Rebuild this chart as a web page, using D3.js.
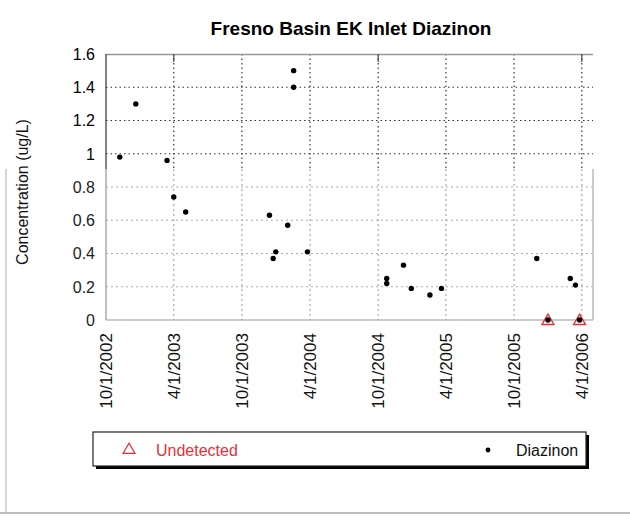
<!DOCTYPE html>
<html>
<head>
<meta charset="utf-8">
<script src="https://cdn.jsdelivr.net/npm/d3@7"></script>
<style>
body { margin: 0; background: #fff; }
text { font-family: "Liberation Sans", Arial, sans-serif; }
</style>
</head>
<body>
<div id="chart"></div>
<script>
// sample dates and concentrations (ug/L)
var diazDates = ["2002-11-07","2002-12-20","2003-03-14","2003-04-01","2003-05-03",
    "2003-12-14","2003-12-24","2003-12-31","2004-02-01","2004-02-17","2004-02-17",
    "2004-03-25","2004-10-24","2004-10-24","2004-12-08","2004-12-29","2005-02-17",
    "2005-03-20","2005-12-01","2005-12-31","2006-03-01","2006-03-15","2006-03-26"];
var diazValues = [0.98,1.30,0.96,0.74,0.65,0.63,0.37,0.41,0.57,1.50,1.40,0.41,
    0.25,0.22,0.33,0.19,0.15,0.19,0.37,0,0.25,0.21,0];
var undetDates = ["2005-12-31","2006-03-26"];
var undetValues = [0, 0];
var xTicks = ["2002-10-01","2003-04-01","2003-10-01","2004-04-01","2004-10-01",
    "2005-04-01","2005-10-01","2006-04-01"];
var topTicks = ["2003-04-01","2004-10-01","2006-04-01"];
var yTicks = [0,0.2,0.4,0.6,0.8,1,1.2,1.4,1.6];

var W = 630, H = 517;
var plot = {left: 106, right: 593, top: 54, bottom: 320};
var SPLIT = 169; // picture looks like two scans stuck together here

var parse = d3.utcParse("%Y-%m-%d");
var fmt = d3.utcFormat("%-m/%-d/%Y");

var x = d3.scaleUtc()
    .domain([parse("2002-10-01"), parse("2006-05-01")])
    .range([plot.left, plot.right]);
var y = d3.scaleLinear()
    .domain([0, 1.6])
    .range([plot.bottom, plot.top]);

var svg = d3.select("#chart").append("svg")
    .attr("width", W).attr("height", H);

var defs = svg.append("defs");
defs.append("clipPath").attr("id","clipTop").append("rect")
    .attr("x",0).attr("y",0).attr("width",W).attr("height",SPLIT);
defs.append("clipPath").attr("id","clipBot").append("rect")
    .attr("x",0).attr("y",SPLIT).attr("width",W).attr("height",H - SPLIT);

// outer frame bits (lower scan only)
svg.append("line").attr("x1",6).attr("x2",6).attr("y1",SPLIT).attr("y2",513)
    .attr("stroke","#c8c8c8").attr("stroke-width",1.5);
svg.append("line").attr("x1",0).attr("x2",W).attr("y1",513).attr("y2",513)
    .attr("stroke","#bdbdbd").attr("stroke-width",2);

function drawGrid(g, col, dash){
    g.selectAll("line.hg")
        .data(yTicks.filter(d => d > 0 && d < 1.6))
        .enter().append("line").attr("class","hg")
        .attr("x1", plot.left).attr("x2", plot.right)
        .attr("y1", d => y(d)).attr("y2", d => y(d))
        .attr("stroke", col).attr("stroke-width", 1.2)
        .attr("stroke-dasharray", dash);
    g.selectAll("line.vg")
        .data(xTicks.slice(1))
        .enter().append("line").attr("class","vg")
        .attr("x1", d => x(parse(d))).attr("x2", d => x(parse(d)))
        .attr("y1", plot.top).attr("y2", plot.bottom)
        .attr("stroke", col).attr("stroke-width", 1.2)
        .attr("stroke-dasharray", dash);
}

var gTop = svg.append("g").attr("clip-path","url(#clipTop)");
drawGrid(gTop, "#333", "1.5,3");
var gBot = svg.append("g").attr("clip-path","url(#clipBot)");
drawGrid(gBot, "#aaa", "2,3");

// frame of the plot area
gTop.append("line").attr("x1",plot.left).attr("x2",plot.right)
    .attr("y1",plot.top+0.5).attr("y2",plot.top+0.5)
    .attr("stroke","#999").attr("stroke-width",1.5);
gTop.append("line").attr("x1",plot.left).attr("x2",plot.left)
    .attr("y1",plot.top).attr("y2",plot.bottom)
    .attr("stroke","#333").attr("stroke-width",1.2);
gTop.selectAll("line.tt")
    .data(topTicks)
    .enter().append("line").attr("class","tt")
    .attr("x1", d => x(parse(d))).attr("x2", d => x(parse(d)))
    .attr("y1", plot.top).attr("y2", plot.top + 8)
    .attr("stroke","#444").attr("stroke-width",1.2);
gBot.append("line").attr("x1",plot.left).attr("x2",plot.left)
    .attr("y1",plot.top).attr("y2",plot.bottom)
    .attr("stroke","#aaa").attr("stroke-width",1.5);
gBot.append("line").attr("x1",plot.right).attr("x2",plot.right)
    .attr("y1",plot.top).attr("y2",plot.bottom)
    .attr("stroke","#bbb").attr("stroke-width",1.5);
gBot.append("line").attr("x1",plot.left).attr("x2",plot.right)
    .attr("y1",plot.bottom).attr("y2",plot.bottom)
    .attr("stroke","#999").attr("stroke-width",1.2);

// y tick labels
svg.selectAll("text.yl")
    .data(yTicks)
    .enter().append("text").attr("class","yl")
    .attr("x", 95).attr("y", d => y(d))
    .attr("dy","0.36em")
    .attr("text-anchor","end")
    .attr("font-size", 16)
    .attr("fill", d => y(d) < SPLIT ? "#000" : "#222")
    .text(d => d);

// x tick labels, rotated
svg.selectAll("text.xl")
    .data(xTicks)
    .enter().append("text").attr("class","xl")
    .attr("transform", d => "translate(" + x(parse(d)) + "," + 333 + ") rotate(-90)")
    .attr("dy","0.36em")
    .attr("text-anchor","end")
    .attr("font-size", 17)
    .attr("fill","#111")
    .text(d => fmt(parse(d)));

// axis title
svg.append("text")
    .attr("transform","translate(22,192) rotate(-90)")
    .attr("dy","0.36em")
    .attr("text-anchor","middle")
    .attr("font-size",16)
    .attr("fill","#111")
    .text("Concentration (ug/L)");

// chart title
svg.append("text")
    .attr("x", 351).attr("y", 35)
    .attr("text-anchor","middle")
    .attr("font-size", 19)
    .attr("font-weight","bold")
    .text("Fresno Basin EK Inlet Diazinon");

var tri = d3.symbol().type(d3.symbolTriangle).size(62);

// undetected markers
svg.selectAll("path.und")
    .data(undetDates.map((d,i) => ({date: parse(d), v: undetValues[i]})))
    .enter().append("path").attr("class","und")
    .attr("d", tri)
    .attr("transform", d => "translate(" + x(d.date) + "," + (y(d.v) + 1) + ")")
    .attr("fill","none")
    .attr("stroke","#e8303a")
    .attr("stroke-width",1.4);

// diazinon points
svg.selectAll("circle.dz")
    .data(diazDates.map((d,i) => ({date: parse(d), v: diazValues[i]})))
    .enter().append("circle").attr("class","dz")
    .attr("cx", d => x(d.date))
    .attr("cy", d => y(d.v))
    .attr("r", 2.7)
    .attr("fill","#000");

// legend
var lg = {x: 93, y: 432, w: 493, h: 34};
svg.append("rect")
    .attr("x", lg.x + 3).attr("y", lg.y + 3)
    .attr("width", lg.w).attr("height", lg.h)
    .attr("fill","#000");
svg.append("rect")
    .attr("x", lg.x).attr("y", lg.y)
    .attr("width", lg.w).attr("height", lg.h)
    .attr("fill","#fff").attr("stroke","#222").attr("stroke-width",1.2);
svg.append("path")
    .attr("d", tri)
    .attr("transform","translate(129,450)")
    .attr("fill","none").attr("stroke","#e8303a").attr("stroke-width",1.2);
svg.append("text")
    .attr("x",156).attr("y",450).attr("dy","0.36em")
    .attr("font-size",16).attr("fill","#e8303a")
    .text("Undetected");
svg.append("circle")
    .attr("cx",488).attr("cy",450).attr("r",2.4).attr("fill","#000");
svg.append("text")
    .attr("x",516).attr("y",450).attr("dy","0.36em")
    .attr("font-size",16).attr("fill","#111")
    .text("Diazinon");
</script>
</body>
</html>
